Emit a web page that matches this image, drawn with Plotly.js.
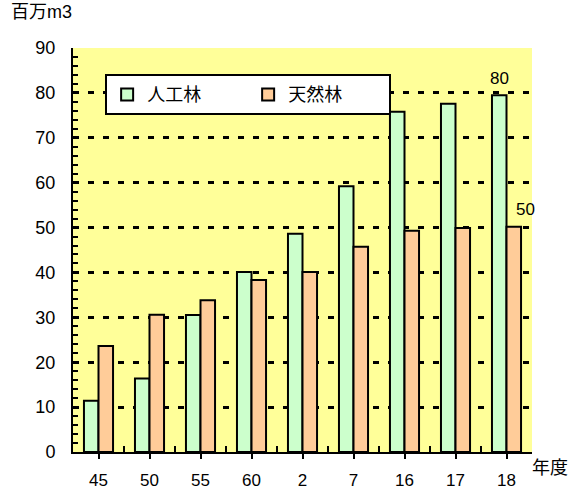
<!DOCTYPE html>
<html><head><meta charset="utf-8">
<script src="https://cdn.plot.ly/plotly-3.0.1.min.js"></script>
<style>html,body{margin:0;padding:0;background:#fff}#c{width:571px;height:491px}</style>
</head><body><div id="c"></div>
<script>
const categories = ['45','50','55','60','2','7','16','17','18'];
const planted = [11.4, 16.4, 30.5, 40.1, 48.6, 59.2, 75.8, 77.6, 79.5];
const natural = [23.6, 30.6, 33.8, 38.3, 40.1, 45.7, 49.3, 49.9, 50.2];
const seriesNames = ['人工林', '天然林'];
const yTitle = '百万m3';
const xTitle = '年度';
const endLabels = ['80', '50'];

const FONT = 'Liberation Sans, Arial, Noto Sans CJK JP, sans-serif';
const last = categories.length - 1;

const data = [
  {type:'bar', name:seriesNames[0], x:categories, y:planted,
   marker:{color:'#CCFFCC', line:{color:'#000', width:2}}},
  {type:'bar', name:seriesNames[1], x:categories, y:natural,
   marker:{color:'#FFCC99', line:{color:'#000', width:2}}},
  {type:'scatter', x:[0], y:[0], xaxis:'x2', yaxis:'y', mode:'markers',
   marker:{opacity:0}, showlegend:false, hoverinfo:'skip'}
];

const layout = {
  width:571, height:491,
  margin:{l:73, r:39, t:48, b:39},
  paper_bgcolor:'#fff', plot_bgcolor:'#FFFF99',
  font:{family:FONT, size:17, color:'#000'},
  barmode:'group', bargap:0.43, bargroupgap:0,
  showlegend:true,
  legend:{orientation:'h', x:0.07, y:0.935, xanchor:'left', yanchor:'top',
    bgcolor:'#fff', bordercolor:'#000', borderwidth:2,
    font:{family:FONT, size:18}, entrywidth:96, traceorder:'normal'},
  xaxis:{type:'category', range:[-0.5, last+0.5], autorange:false,
    showline:true, linecolor:'#000', linewidth:2,
    ticks:'outside', ticklen:5, tickwidth:2, tickcolor:'#000', ticklabelstandoff:7,
    showgrid:false, zeroline:false, tickfont:{size:17}, fixedrange:true},
  xaxis2:{overlaying:'x', type:'linear', range:[-0.5, last+0.5], autorange:false,
    tick0:0.5, dtick:1, ticks:'inside', ticklen:6, tickwidth:2, tickcolor:'#000',
    showticklabels:false, showgrid:false, zeroline:false, showline:false, side:'bottom'},
  yaxis:{range:[0,90], autorange:false, dtick:10, showline:true, linecolor:'#000', linewidth:2,
    ticks:'inside', ticklen:5, tickwidth:2, tickcolor:'#000', ticklabelstandoff:12,
    minor:{dtick:2, ticks:'inside', ticklen:5, tickwidth:2, tickcolor:'#000', showgrid:false},
    showgrid:true, gridcolor:'#000', gridwidth:3, griddash:'6px,9px',
    zeroline:false, tickfont:{size:18}, fixedrange:true},
  annotations:[
    {xref:'paper', yref:'paper', x:-0.14, y:1.06, xanchor:'left', yanchor:'bottom',
     text:yTitle, showarrow:false, font:{size:18}},
    {xref:'paper', yref:'paper', x:0.995, y:-0.01, xanchor:'left', yanchor:'top',
     text:xTitle, showarrow:false, font:{size:18}},
    {xref:'x', yref:'y', x:last, y:planted[last], xshift:-7, yanchor:'bottom', yshift:5,
     text:endLabels[0], showarrow:false, font:{size:17}},
    {xref:'x', yref:'y', x:last, y:natural[last], xshift:19, yanchor:'bottom', yshift:6,
     text:endLabels[1], showarrow:false, font:{size:17}}
  ]
};
Plotly.newPlot('c', data, layout, {displayModeBar:false, staticPlot:true});
</script></body></html>
